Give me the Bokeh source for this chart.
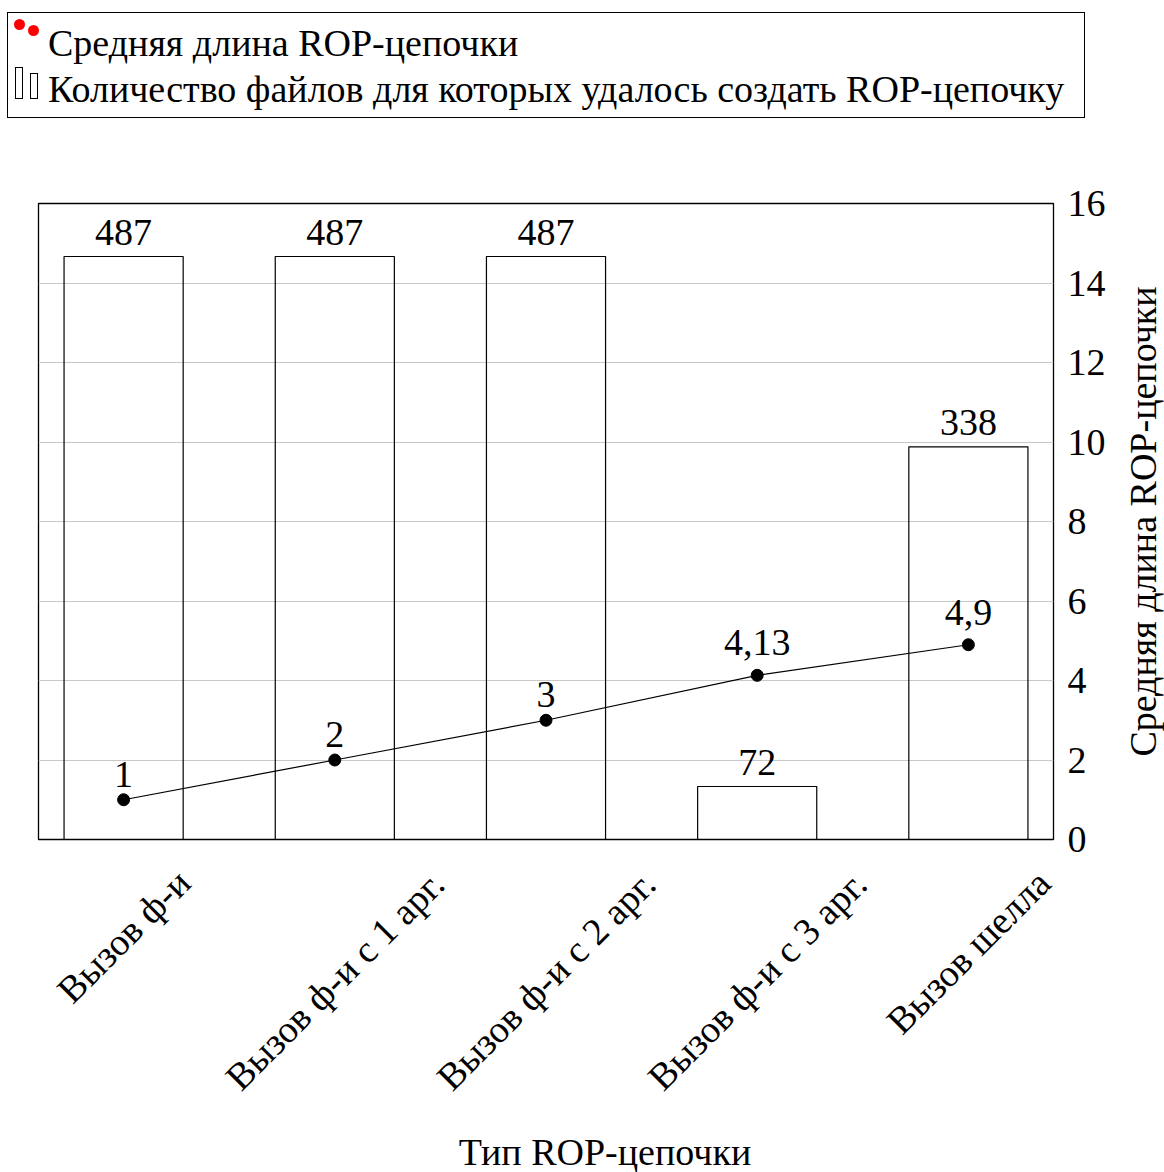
from math import pi

from bokeh.core.properties import value
from bokeh.embed import file_html
from bokeh.layouts import column, row
from bokeh.models import ColumnDataSource, Div, FixedTicker, LabelSet, Range1d
from bokeh.plotting import figure
from bokeh.resources import INLINE

# ---- data -------------------------------------------------------------
categories = [
    "Вызов ф-и",
    "Вызов ф-и с 1 арг.",
    "Вызов ф-и с 2 арг.",
    "Вызов ф-и с 3 арг.",
    "Вызов шелла",
]
file_counts = [487, 487, 487, 72, 338]      # files for which a chain was built
avg_length = [1, 2, 3, 4.13, 4.9]           # mean ROP-chain length
length_ticks = [0, 2, 4, 6, 8, 10, 12, 14, 16]

legend_line = "Средняя длина ROP-цепочки"
legend_bar = "Количество файлов для которых удалось создать ROP-цепочку"
x_title = "Тип ROP-цепочки"
y_title = "Средняя длина ROP-цепочки"

# ---- style ------------------------------------------------------------
FONT = "Liberation Serif"
FS = "38px"
FS_PX = 38
W = 1164
TITLE_W = 50                  # strip on the right holding the y title
GAP = 20                      # room under the frame for the "0" tick label
TOP = 43
LEG_H, MAIN_H = 160, 679 + GAP
CAT_H = 1172 - LEG_H - MAIN_H
BAR_W = 0.564
X_PAD = 0.403

# approximate advance widths (em) of the serif face, for rotated label placement
EM = {" ": 0.25, ".": 0.25, "-": 0.333, "В": 0.667, "ы": 0.70, "з": 0.40,
      "о": 0.50, "в": 0.47, "ф": 0.65, "и": 0.535, "с": 0.44, "а": 0.444,
      "р": 0.50, "г": 0.41, "ш": 0.78, "е": 0.444, "л": 0.51}


def text_px(s):
    return sum(EM.get(ch, 0.5) for ch in s) * FS_PX


def fmt(v):
    return f"{v:g}".replace(".", ",")


xs = list(range(len(categories)))

# count axis limits are padded by 10% of the data span (hidden axis)
span = max(file_counts) - min(file_counts)
cnt_lo = min(file_counts) - 0.1 * span
cnt_hi = max(file_counts) + 0.1 * span

# ---- legend -----------------------------------------------------------
legend_html = f"""
<div style="position:relative;width:{W}px;height:{LEG_H}px;font-family:'{FONT}';
            font-size:{FS};line-height:1;color:#000;">
  <div style="position:absolute;left:7px;top:12px;width:1078px;height:106px;
              border:1.2px solid #000;box-sizing:border-box;"></div>
  <div style="position:absolute;left:14px;top:19px;width:11px;height:11px;
              border-radius:50%;background:#ff0000;"></div>
  <div style="position:absolute;left:28px;top:25px;width:11px;height:11px;
              border-radius:50%;background:#ff0000;"></div>
  <div style="position:absolute;left:15px;top:67px;width:8px;height:32px;
              border:1px solid #000;box-sizing:border-box;"></div>
  <div style="position:absolute;left:30px;top:73px;width:8px;height:26px;
              border:1px solid #000;box-sizing:border-box;"></div>
  <div style="position:absolute;left:48px;top:24px;white-space:nowrap;">{legend_line}</div>
  <div style="position:absolute;left:48px;top:70px;white-space:nowrap;">{legend_bar}</div>
</div>
"""
leg = Div(text=legend_html, width=W, height=LEG_H, margin=(0, 0, 0, 0))

# ---- main chart -------------------------------------------------------
p = figure(width=W - TITLE_W, height=MAIN_H,
           x_range=Range1d(-X_PAD, len(categories) - 1 + X_PAD),
           y_range=Range1d(length_ticks[0], length_ticks[-1]),
           y_axis_location="right", output_backend="svg", toolbar_location=None,
           min_border_left=38, min_border_right=111 - TITLE_W, min_border_top=TOP,
           min_border_bottom=GAP)
p.extra_y_ranges = {"count": Range1d(cnt_lo, cnt_hi)}

p.xaxis.visible = False
p.xgrid.grid_line_color = None
p.ygrid.ticker = FixedTicker(ticks=length_ticks)
p.ygrid.grid_line_color = "#c8c8c8"
p.ygrid.grid_line_width = 1
p.outline_line_color = "black"
p.outline_line_width = 1.3

ax = p.yaxis[0]
ax.ticker = FixedTicker(ticks=length_ticks)
ax.axis_line_color = None
ax.major_tick_line_color = None
ax.minor_tick_line_color = None
ax.major_tick_out = 0
ax.major_label_standoff = 14
ax.major_label_text_font = FONT
ax.major_label_text_font_size = FS
ax.major_label_text_color = "black"

# bars: file counts on the hidden count axis
p.vbar(x=xs, top=file_counts, bottom=cnt_lo, width=BAR_W, y_range_name="count",
       fill_color=None, line_color="black", line_width=1.2)
bar_src = ColumnDataSource(dict(x=xs, y=file_counts, t=[str(n) for n in file_counts]))
p.add_layout(LabelSet(x="x", y="y", text="t", source=bar_src, y_range_name="count",
                      y_offset=12, text_align="center", text_baseline="alphabetic",
                      text_font=value(FONT), text_font_size=value(FS),
                      text_color="black"))

# line: average chain length
p.line(xs, avg_length, line_color="black", line_width=1.2)
p.scatter(xs, avg_length, size=12, color="black")
line_labels = [fmt(v) for v in avg_length]
line_src = ColumnDataSource(dict(x=xs, y=avg_length, t=line_labels,
                                 off=[13 + (7 if "," in s else 0) for s in line_labels]))
p.add_layout(LabelSet(x="x", y="y", text="t", source=line_src, y_offset="off",
                      text_align="center", text_baseline="alphabetic",
                      text_font=value(FONT), text_font_size=value(FS),
                      text_color="black"))

# ---- y title strip (shares the length scale) ---------------------------
yt = figure(width=TITLE_W, height=MAIN_H, x_range=Range1d(0, TITLE_W),
            y_range=p.y_range, output_backend="svg", toolbar_location=None,
            min_border_left=0, min_border_right=0, min_border_top=TOP,
            min_border_bottom=GAP)
yt.axis.visible = False
yt.grid.visible = False
yt.outline_line_color = None
y_mid = (p.y_range.start + p.y_range.end) / 2
yt.text(x=[28], y=[y_mid], text=[y_title], angle=pi / 2,
        text_align="center", text_baseline="middle",
        text_font=value(FONT), text_font_size=value(FS), text_color="black")

# ---- category labels and x title (strip under the chart, same x scale) --
# y in this strip = pixels below the chart frame
cat = figure(width=W - TITLE_W, height=CAT_H, x_range=p.x_range,
             y_range=Range1d(GAP + CAT_H, GAP),
             output_backend="svg", toolbar_location=None, min_border=0)
cat.axis.visible = False
cat.grid.visible = False
cat.outline_line_color = None
cat.text(x=xs, y=[36 + 0.354 * text_px(c) for c in categories], text=categories,
         angle=pi / 4, text_align="center", text_baseline="middle",
         text_font=value(FONT), text_font_size=value(FS), text_color="black")
x_mid = (p.x_range.start + p.x_range.end) / 2
cat.text(x=[x_mid], y=[312], text=[x_title], x_offset=59,
         text_align="center", text_baseline="alphabetic",
         text_font=value(FONT), text_font_size=value(FS), text_color="black")

layout = column(leg, row(column(p, cat, spacing=0), yt, spacing=0), spacing=0)
open("out.html", "w").write(file_html(layout, INLINE))
